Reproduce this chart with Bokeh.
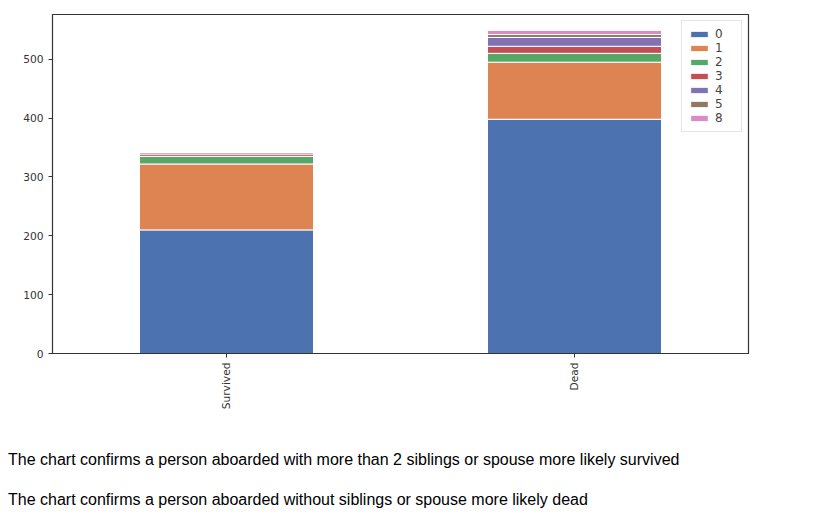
import math
from bokeh.plotting import figure
from bokeh.models import Range1d, FixedTicker, Div, Legend, LegendItem
from bokeh.layouts import column
from bokeh.embed import file_html
from bokeh.resources import INLINE

outcomes = ["Survived", "Dead"]
sibsp = ["0", "1", "2", "3", "4", "5", "8"]
survived_counts = [210, 112, 13, 4, 3, 0, 0]
dead_counts = [398, 97, 15, 12, 15, 5, 7]
colors = ["#4c72b0", "#dd8452", "#55a868", "#c44e52", "#8172b3", "#937860", "#da8bc3"]

data = {"outcome": outcomes}
for i, k in enumerate(sibsp):
    data[k] = [survived_counts[i], dead_counts[i]]

p = figure(x_range=outcomes, width=760, height=415, output_backend="svg",
           toolbar_location=None, min_border_top=6, min_border_bottom=70,
           min_border_left=44, min_border_right=20)
p.y_range = Range1d(0, 576)
rs = p.vbar_stack(sibsp, x="outcome", width=0.5, color=colors, source=data,
                  line_color="white", line_width=1)

legend = Legend(items=[LegendItem(label=k, renderers=[r]) for k, r in zip(sibsp, rs)],
                location="top_right", label_text_font_size="9pt", glyph_height=8,
                glyph_width=22, spacing=0, label_height=10, padding=6, margin=6,
                border_line_color="#cccccc", label_text_font="DejaVu Sans")
p.add_layout(legend)

p.xgrid.visible = False
p.ygrid.visible = False
p.outline_line_color = "#333333"
p.outline_line_width = 1.2
p.yaxis.ticker = FixedTicker(ticks=[0, 100, 200, 300, 400, 500])
p.xaxis.major_label_orientation = math.pi / 2
for ax in (p.xaxis, p.yaxis):
    ax.major_label_text_font = "DejaVu Sans"
    ax.major_label_text_font_size = "8pt"
    ax.major_label_text_color = "#333333"
    ax.axis_line_color = "#333333"
    ax.major_tick_line_color = "#333333"
    ax.minor_tick_line_color = None
    ax.major_tick_out = 4
    ax.major_tick_in = 0
p.x_range.range_padding = 0.0

style = {"font-family": "Liberation Sans, Arial", "font-size": "16px", "color": "#000"}
d1 = Div(text="The chart confirms a person aboarded with more than 2 siblings or spouse more likely survived",
         width=800, styles=style, margin=(26, 0, 0, 0))
d2 = Div(text="The chart confirms a person aboarded without siblings or spouse more likely dead",
         width=800, styles=style, margin=(17, 0, 0, 0))

layout = column(p, d1, d2, spacing=0, margin=(8, 0, 0, 8))
open("out.html", "w").write(file_html(layout, INLINE))
